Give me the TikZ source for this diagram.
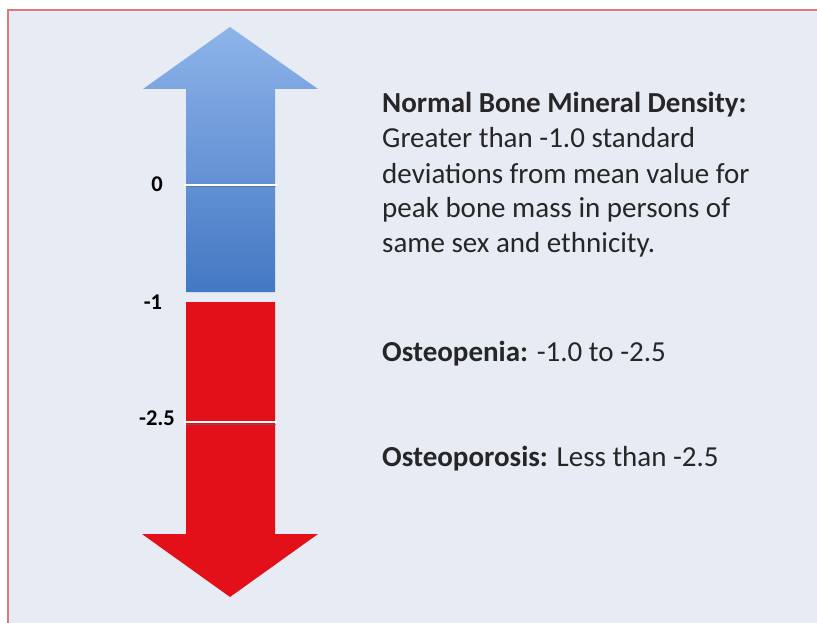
\documentclass[tikz,border=0pt]{standalone}
\usepackage{fontspec}
\setmainfont{Carlito}
\definecolor{bgcol}{HTML}{E7EBF3}
\definecolor{framecol}{HTML}{E07A7A}
\definecolor{bluetop}{HTML}{8EB4EA}
\definecolor{bluebot}{HTML}{4378C3}
\definecolor{redcol}{HTML}{E30F19}
\definecolor{txtcol}{HTML}{262626}
\definecolor{sepshadow}{HTML}{5A6A80}
\tikzset{
  desc/.style={anchor=base west, inner sep=0pt, text=txtcol, font=\fontsize{29}{34.5}\selectfont},
  tick/.style={anchor=center, inner sep=0pt, text=black, font=\bfseries\fontsize{22.5}{26}\selectfont},
  sep/.style={draw=white, line width=2.6pt},
  sepsh/.style={draw=sepshadow, line width=1pt, opacity=0.6},
}
\begin{document}
\begin{tikzpicture}[x=1pt,y=-1pt]
\useasboundingbox (0,0) rectangle (817,623);
\fill[white] (0,0) rectangle (817,623);
\fill[bgcol] (8,10) rectangle (820,626);
\draw[framecol, line width=2pt] (8,626) -- (8,10) -- (820,10);
% blue up arrow
\shade[top color=bluetop, bottom color=bluebot]
  (230,27) -- (318,89) -- (275,89) -- (275,292) -- (186,292) -- (186,89) -- (143,89) -- cycle;
% red down arrow
\fill[redcol]
  (186,302) -- (275,302) -- (275,534) -- (318,534) -- (230,597) -- (142,534) -- (186,534) -- cycle;
% separators
\coordinate (s0l) at (184,185); \coordinate (s0r) at (277,185);
\coordinate (s2l) at (184,422); \coordinate (s2r) at (277,422);
\coordinate (h0l) at (186,187); \coordinate (h0r) at (276,187);
\coordinate (h2l) at (186,424); \coordinate (h2r) at (276,424);
\draw[sepsh] (h0l) -- (h0r);
\draw[sepsh] (h2l) -- (h2r);
\draw[sep] (s0l) -- (s0r);
\draw[sep] (s2l) -- (s2r);
% tick labels
\node[tick] (t0) at (157,184) {0};
\node[tick] (t1) at (153,302) {-1};
\node[tick] (t25) at (157,418) {-2.5};
% descriptions
\node[desc] (n1) at (382,113) {\textbf{Normal Bone Mineral Density:}};
\node[desc] (n2) at (382,148) {Greater than -1.0 standard};
\node[desc] (n3) at (382,183) {deviations from mean value for};
\node[desc] (n4) at (382,217) {peak bone mass in persons of};
\node[desc] (n5) at (382,252) {same sex and ethnicity.};
\node[desc] (op) at (382,361) {\textbf{Osteopenia:} -1.0 to -2.5};
\node[desc] (os) at (382,466) {\textbf{Osteoporosis:} Less than -2.5};
\end{tikzpicture}
\end{document}
